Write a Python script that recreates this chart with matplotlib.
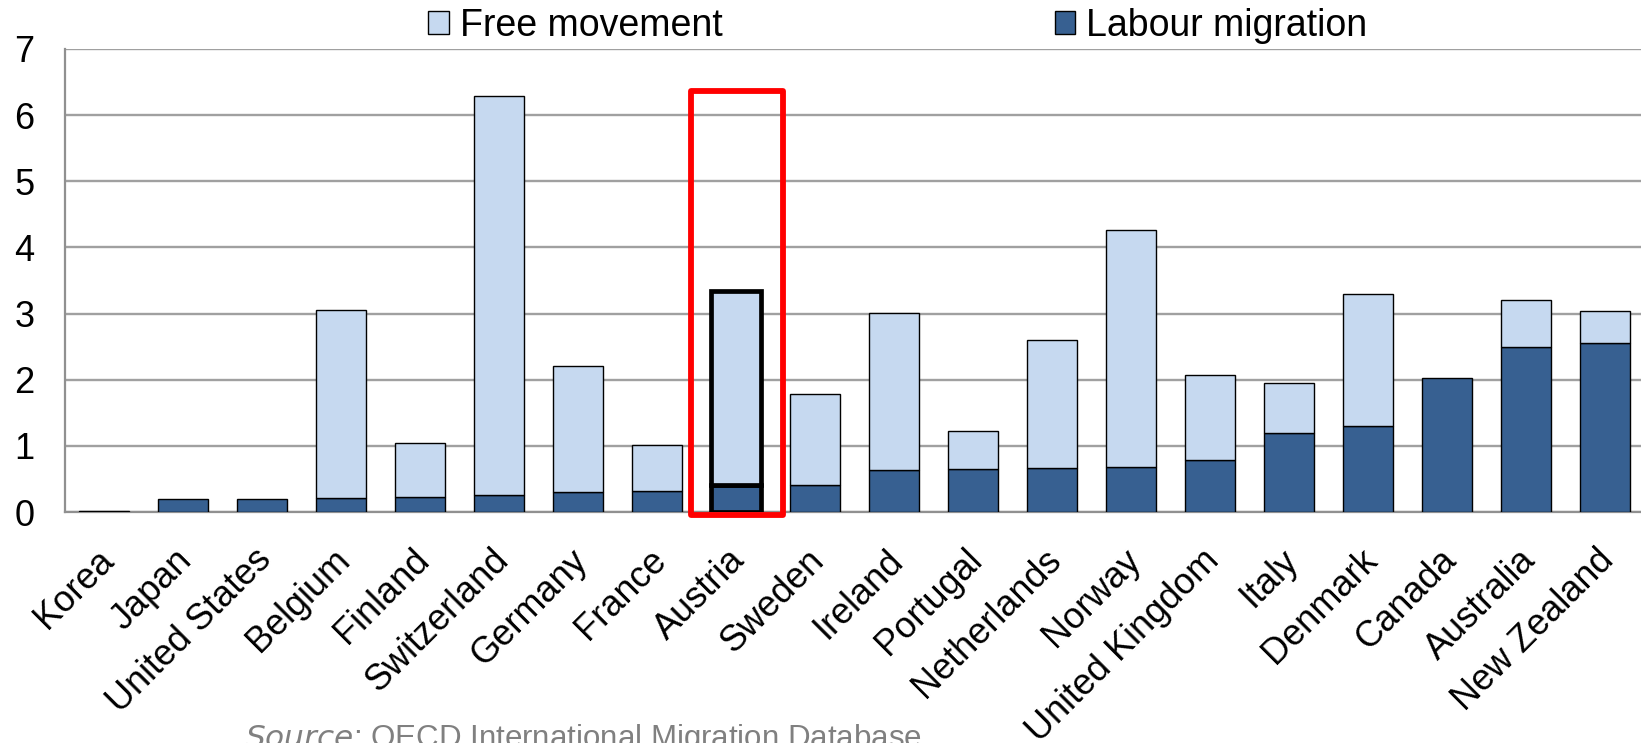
import matplotlib
matplotlib.use("Agg")
import matplotlib.pyplot as plt
import matplotlib.transforms as mtransforms
from matplotlib.patches import Rectangle, Patch

plt.rcParams['font.family'] = ['Liberation Sans', 'DejaVu Sans']

countries = ["Korea", "Japan", "United States", "Belgium", "Finland", "Switzerland",
             "Germany", "France", "Austria", "Sweden", "Ireland", "Portugal",
             "Netherlands", "Norway", "United Kingdom", "Italy", "Denmark",
             "Canada", "Australia", "New Zealand"]
labour = [0.02, 0.20, 0.20, 0.21, 0.23, 0.25, 0.30, 0.32, 0.41, 0.41, 0.63, 0.65,
          0.67, 0.68, 0.79, 1.19, 1.30, 2.03, 2.50, 2.55]
free_movement = [0.00, 0.00, 0.00, 2.84, 0.81, 6.04, 1.91, 0.70, 2.93, 1.38, 2.38, 0.58,
                 1.93, 3.59, 1.28, 0.76, 1.99, 0.00, 0.70, 0.49]
highlight = "Austria"
yticks = [0, 1, 2, 3, 4, 5, 6, 7]

light = "#C6D9F0"
dark = "#376091"

fig = plt.figure(figsize=(16.41, 7.43), dpi=100)
ax = fig.add_axes([65 / 1641, 231 / 743, 1 - 65 / 1641, 463 / 743])

x = list(range(len(countries)))
width = 0.63
for i, c in enumerate(countries):
    hl = c == highlight
    lw = 3.4 if hl else 1.0
    if labour[i] > 0:
        ax.bar(i, labour[i], width, color=dark, edgecolor="black", linewidth=lw, zorder=3)
    if free_movement[i] > 0:
        ax.bar(i, free_movement[i], width, bottom=labour[i], color=light,
               edgecolor="black", linewidth=lw, zorder=3)

# red frame around the highlighted country
hi = countries.index(highlight)
ax.add_patch(Rectangle((hi - 0.57, -0.05), 1.17, 6.41, fill=False, edgecolor="#FF0000",
                       linewidth=4.2, joinstyle="round", clip_on=False, zorder=5))

ax.set_xlim(-0.49, 19.46)
ax.set_ylim(0, 7)
ax.set_yticks(yticks)
ax.set_yticklabels([str(t) for t in yticks], fontsize=26)
ax.set_xticks(x)
ax.set_xticklabels(countries, rotation=45, ha="right", va="top",
                   rotation_mode="anchor", fontsize=26)
ax.tick_params(axis="both", length=0)
ax.tick_params(axis="y", pad=22)
ax.tick_params(axis="x", pad=22)
shift = mtransforms.ScaledTranslation(-8 / 100, 0, fig.dpi_scale_trans)
for lab in ax.get_xticklabels():
    lab.set_transform(lab.get_transform() + shift)

ax.yaxis.grid(True, color="#A0A0A0", linewidth=1.7)
ax.set_axisbelow(True)
for s in ["top", "right"]:
    ax.spines[s].set_visible(False)
for s in ["left", "bottom"]:
    ax.spines[s].set_color("#909090")
    ax.spines[s].set_linewidth(1.6)

handles = [Patch(facecolor=light, edgecolor="black", linewidth=1.0),
           Patch(facecolor=dark, edgecolor="black", linewidth=1.0)]
fig.legend(handles, ["Free movement", "Labour migration"], ncol=2,
           loc="center left", bbox_to_anchor=(428 / 1641, 1 - 26 / 743),
           frameon=False, fontsize=27, handlelength=0.55, handleheight=0.55,
           handletextpad=0.3, columnspacing=8.85, borderpad=0, borderaxespad=0)

fig.text(245 / 1641, 1 - 722 / 743, "$\\it{Source}$: OECD International Migration Database",
         fontsize=22.5, color="#808080", ha="left", va="top")

fig.savefig("out.png", dpi=100)
